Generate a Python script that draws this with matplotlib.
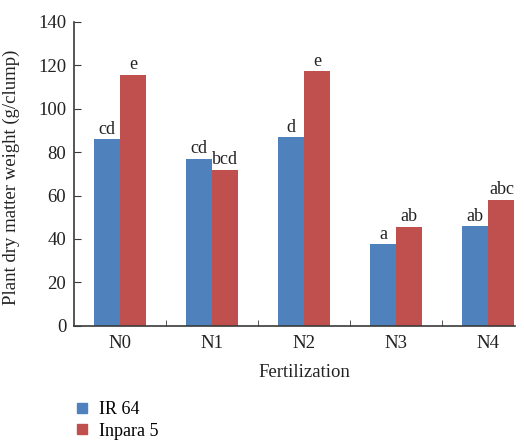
import numpy as np
import matplotlib
matplotlib.use("Agg")
import matplotlib.pyplot as plt
from matplotlib.lines import Line2D

plt.rcParams["font.family"] = ["Liberation Serif", "DejaVu Serif"]

categories = ["N0", "N1", "N2", "N3", "N4"]
ir64 = [86.0, 77.0, 86.9, 37.6, 46.0]
inpara5 = [115.7, 72.0, 117.4, 45.7, 58.0]
ir64_letters = ["cd", "cd", "d", "a", "ab"]
inpara5_letters = ["e", "bcd", "e", "ab", "abc"]

blue = "#4f81bd"
red = "#c0504d"
axis_col = "#3a3a3a"
txt = "#222222"

fig = plt.figure(figsize=(5.24, 4.4), dpi=100)
ax = fig.add_axes([0.1412, 0.2598, 0.8418, 0.6902])

x = np.arange(len(categories))
w = 0.283
b1 = ax.bar(x - w / 2, ir64, w, color=blue, label="IR 64")
b2 = ax.bar(x + w / 2, inpara5, w, color=red, label="Inpara 5")

for bars, labs in ((b1, ir64_letters), (b2, inpara5_letters)):
    for b, t in zip(bars, labs):
        ax.annotate(t, (b.get_x() + b.get_width() / 2, b.get_height()),
                    xytext=(0, 1.0), textcoords="offset points",
                    ha="center", va="bottom", fontsize=13, color=txt)

ax.set_xlim(-0.5, 4.29)
ax.set_ylim(0, 140)
ax.set_yticks(range(0, 141, 20))
ax.set_xticks(x)
ax.set_xticklabels(categories)
ax.set_xticks(x[:-1] + 0.5, minor=True)
ax.tick_params(axis="x", which="major", length=0, labelsize=13.5, pad=6.5, colors=txt)
ax.tick_params(axis="x", which="minor", direction="in", length=4, color=axis_col)
ax.tick_params(axis="y", direction="in", length=5, labelsize=13.5, color=axis_col,
               labelcolor=txt, pad=5.5)

for s in ("top", "right"):
    ax.spines[s].set_visible(False)
for s in ("left", "bottom"):
    ax.spines[s].set_color(axis_col)
    ax.spines[s].set_linewidth(1.2)

ax.set_ylabel("Plant dry matter weight (g/clump)", fontsize=13.5, color=txt)
ax.yaxis.set_label_coords(-0.122, 0.49)
ax.set_xlabel("Fertilization", fontsize=13.5, color=txt)
ax.xaxis.set_label_coords(0.5215, -0.126)

handles = [Line2D([], [], marker="s", linestyle="none", markersize=7.5, color=blue),
           Line2D([], [], marker="s", linestyle="none", markersize=7.5, color=red)]
fig.legend(handles, ["IR 64", "Inpara 5"], loc="upper left",
           bbox_to_anchor=(0.135, 0.088), frameon=False, fontsize=13,
           handletextpad=0.35, labelspacing=0.25, borderaxespad=0, handlelength=1.2,
           borderpad=0)

fig.savefig("out.png", dpi=100)
